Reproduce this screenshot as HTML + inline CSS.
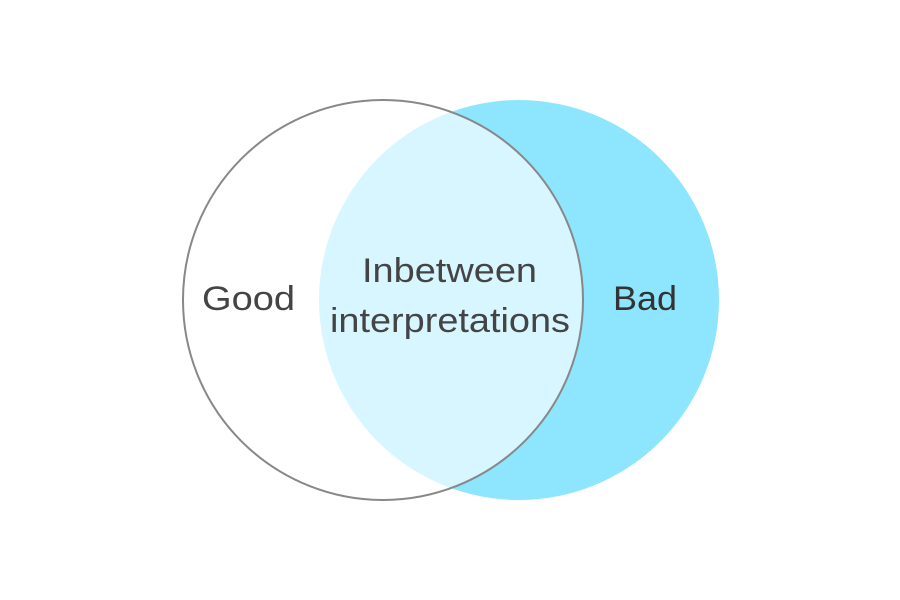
<!DOCTYPE html>
<html><head><style>html,body{margin:0;padding:0;background:#fff;width:900px;height:600px;overflow:hidden}</style></head>
<body>
<svg width="900" height="600" viewBox="0 0 900 600" xmlns="http://www.w3.org/2000/svg">
<rect width="900" height="600" fill="#fff"/>
<circle cx="519" cy="300" r="200" fill="#8ee5fe"/>
<circle cx="383" cy="300" r="200" fill="#fff" fill-opacity="0.65" stroke="#888" stroke-width="2"/>
<g font-family="Liberation Sans, sans-serif" font-size="34" fill="#444" text-anchor="middle" lengthAdjust="spacingAndGlyphs">
<text x="248.5" y="310" textLength="93" lengthAdjust="spacingAndGlyphs">Good</text>
<text x="645" y="310" fill="#333" textLength="64" lengthAdjust="spacingAndGlyphs">Bad</text>
<text x="449.5" y="282" textLength="175" lengthAdjust="spacingAndGlyphs">Inbetween</text>
<text x="450" y="332" textLength="240" lengthAdjust="spacingAndGlyphs">interpretations</text>
</g>
</svg>
</body></html>
